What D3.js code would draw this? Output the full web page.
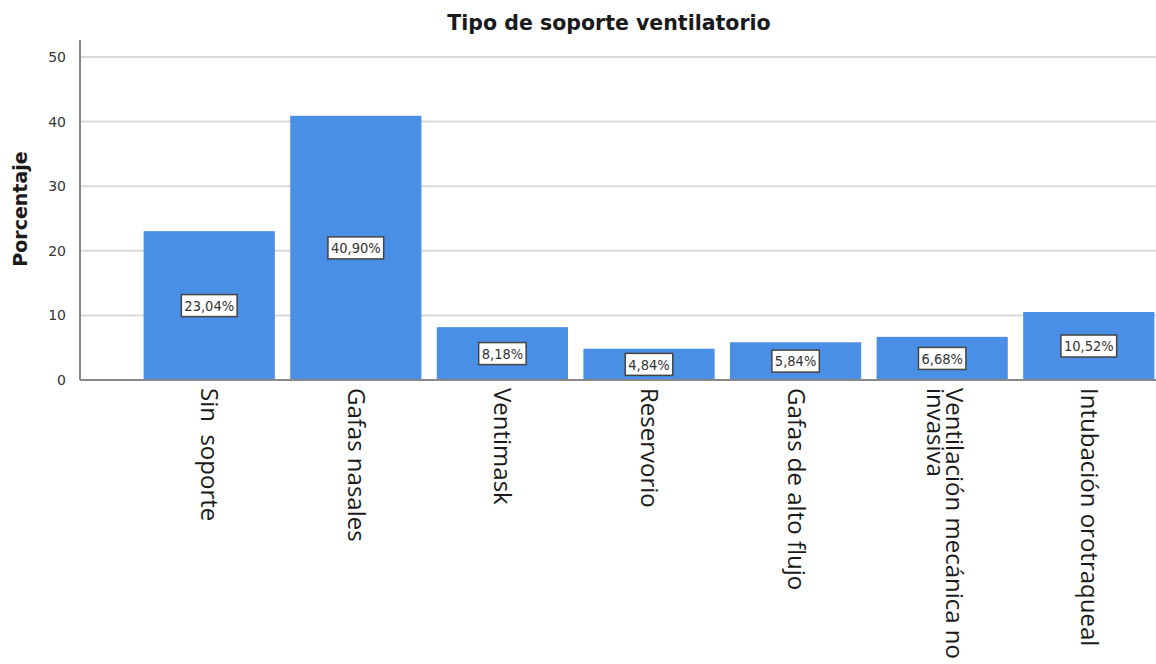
<!DOCTYPE html>
<html>
<head>
<meta charset="utf-8">
<script src="https://cdn.jsdelivr.net/npm/d3@7"></script>
<style>
  html, body { margin: 0; padding: 0; background: #fff; }
  svg { display: block; }
</style>
</head>
<body>
<svg id="chart" width="1156" height="664"></svg>
<script>
// Ventilatory support type, percentage of patients
const categories = [
  ["Sin  soporte"],
  ["Gafas nasales"],
  ["Ventimask"],
  ["Reservorio"],
  ["Gafas de alto flujo"],
  ["Ventilación mecánica no", "invasiva"],
  ["Intubación orotraqueal"]
];
const percentages = [23.04, 40.90, 8.18, 4.84, 5.84, 6.68, 10.52];
const yTicks = [0, 10, 20, 30, 40, 50];

const svg = d3.select("#chart");
const W = 1156, H = 664;

const axisLeft = 80, axisBottom = 380;

const x = d3.scaleBand()
  .domain(d3.range(categories.length))
  .range([136, 1162])
  .paddingInner(0.105)
  .paddingOuter(0.052);

const y = d3.scaleLinear()
  .domain([0, 50])
  .range([axisBottom, 57]);

// title
svg.append("text")
  .attr("x", 609).attr("y", 30)
  .attr("text-anchor", "middle")
  .attr("font-family", "DejaVu Sans, sans-serif")
  .attr("font-weight", "bold")
  .attr("font-size", 20.5)
  .attr("fill", "#1a1a1a")
  .text("Tipo de soporte ventilatorio");

// gridlines
svg.append("g")
  .selectAll("line")
  .data(yTicks.filter(d => d > 0))
  .join("line")
  .attr("x1", axisLeft).attr("x2", W)
  .attr("y1", d => y(d)).attr("y2", d => y(d))
  .attr("stroke", "#d9d9d9")
  .attr("stroke-width", 2);

// y axis
const yAxis = svg.append("g")
  .attr("transform", `translate(${axisLeft},0)`)
  .call(d3.axisLeft(y).tickValues(yTicks).tickSize(0).tickPadding(14));
yAxis.select(".domain").remove();
yAxis.selectAll("text")
  .attr("font-family", "DejaVu Sans, sans-serif")
  .attr("font-size", 14)
  .attr("fill", "#333");

svg.append("line")
  .attr("x1", axisLeft).attr("x2", axisLeft)
  .attr("y1", 40).attr("y2", axisBottom)
  .attr("stroke", "#888").attr("stroke-width", 2);

// y axis title
svg.append("text")
  .attr("transform", `translate(27,${209}) rotate(-90)`)
  .attr("text-anchor", "middle")
  .attr("font-family", "DejaVu Sans, sans-serif")
  .attr("font-weight", "bold")
  .attr("font-size", 19)
  .attr("fill", "#1a1a1a")
  .text("Porcentaje");

// bars
svg.append("g")
  .selectAll("rect")
  .data(percentages)
  .join("rect")
  .attr("x", (d, i) => x(i))
  .attr("width", x.bandwidth())
  .attr("y", d => y(d))
  .attr("height", d => y(0) - y(d))
  .attr("fill", "#4a8fe6");

// baseline
svg.append("line")
  .attr("x1", axisLeft).attr("x2", W)
  .attr("y1", axisBottom).attr("y2", axisBottom)
  .attr("stroke", "#888").attr("stroke-width", 2);

// value labels in boxes at bar midpoints
const fmt = v => v.toFixed(2).replace(".", ",") + "%";
const labels = svg.append("g")
  .selectAll("g")
  .data(percentages)
  .join("g")
  .attr("transform", (d, i) => `translate(${x(i) + x.bandwidth() / 2},${y(d / 2)})`);

labels.append("text")
  .attr("text-anchor", "middle")
  .attr("dy", "0.36em")
  .attr("font-family", "DejaVu Sans Condensed, DejaVu Sans, sans-serif")
  .attr("font-size", 14.5)
  .attr("fill", "#333")
  .text(fmt);

labels.each(function () {
  const g = d3.select(this);
  const bb = g.select("text").node().getBBox();
  g.insert("rect", "text")
    .attr("x", bb.x - 3)
    .attr("y", -11)
    .attr("width", bb.width + 6)
    .attr("height", 22)
    .attr("fill", "#fff")
    .attr("stroke", "#444")
    .attr("stroke-width", 1.5);
});

// category labels, rotated to read downward
const catLabels = svg.append("g")
  .selectAll("text")
  .data(categories)
  .join("text")
  .attr("transform", (d, i) => {
    const cx = x(i) + x.bandwidth() / 2 - 8 + (d.length - 1) * 12;
    return `translate(${cx},388) rotate(90)`;
  })
  .attr("font-family", "Open Sans, sans-serif")
  .attr("font-size", 24)
  .attr("fill", "#1a1a1a")
  .style("white-space", "pre");

catLabels.selectAll("tspan")
  .data(d => d)
  .join("tspan")
  .attr("x", 0)
  .attr("dy", (d, j) => j === 0 ? 0 : "0.8em")
  .text(d => d);
</script>
</body>
</html>
